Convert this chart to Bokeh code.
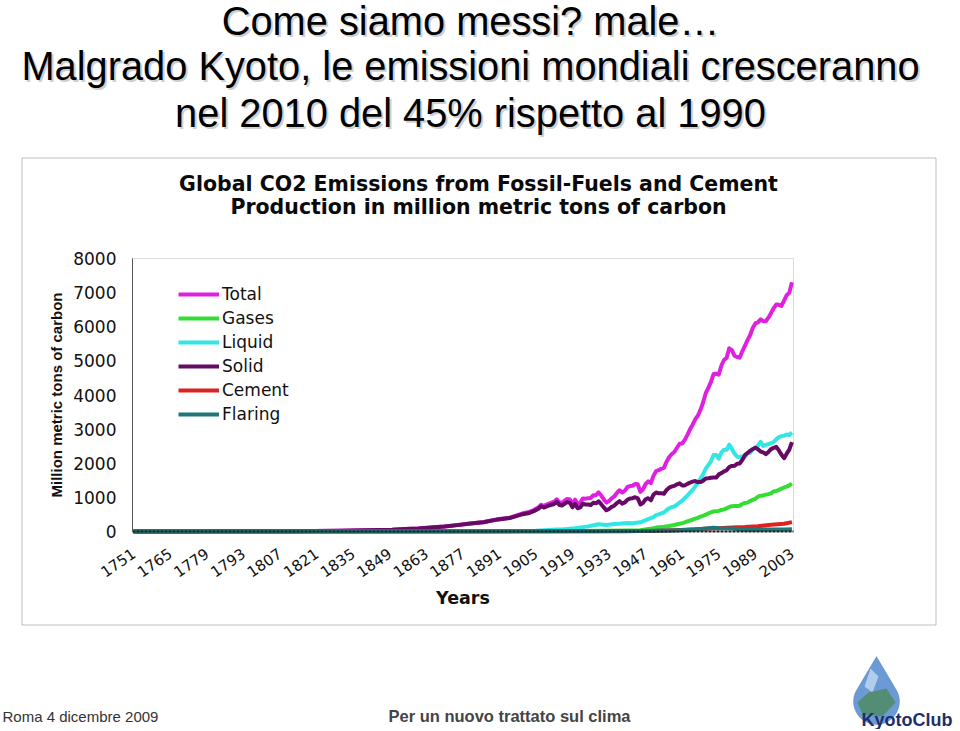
import math
from bokeh.plotting import figure
from bokeh.models import (FixedTicker, Label, BoxAnnotation, Legend, LegendItem,
                          Range1d, PolyAnnotation)
from bokeh.embed import file_html
from bokeh.resources import INLINE

# ---------------- data (million metric tons of carbon) ----------------
years = [1751, 1760, 1770, 1780, 1790, 1800, 1810, 1820, 1830, 1840,
         1850, 1855, 1860, 1865, 1870, 1875, 1880, 1885, 1890, 1895,
         1900, 1902, 1904, 1906, 1907, 1908, 1910, 1912,
         1913, 1914, 1915, 1916, 1917, 1918, 1919, 1920, 1921, 1922,
         1923, 1924, 1925, 1926, 1927, 1928, 1929, 1930, 1931, 1932,
         1933, 1934, 1935, 1936, 1937, 1938, 1939, 1940, 1941, 1942,
         1943, 1944, 1945, 1946, 1947, 1948, 1949] + list(range(1950, 2004))

total = [3, 3, 3, 4, 5, 8, 10, 14, 24, 33,
         54, 75, 91, 119, 147, 188, 236, 277, 356, 405,
         534, 563, 622, 707, 784, 750, 819, 874,
         943, 850, 838, 901, 955, 936, 806, 932, 803, 845,
         970, 963, 975, 983, 1062, 1065, 1145, 1053, 940, 847,
         893, 973, 1027, 1130, 1209, 1142, 1192, 1299, 1334, 1342,
         1391, 1383, 1160, 1238, 1392, 1469, 1419,
         1630, 1767, 1795, 1841, 1865, 2042, 2177, 2270, 2330, 2454,
         2569, 2580, 2686, 2833, 2995, 3130, 3288, 3393, 3566, 3780,
         4053, 4208, 4376, 4614, 4623, 4596, 4864, 5026, 5087, 5369,
         5315, 5152, 5113, 5094, 5280, 5439, 5607, 5752, 5965, 6097,
         6127, 6217, 6164, 6162, 6266, 6398, 6542, 6651, 6643, 6610,
         6765, 6927, 6996, 7303]

solid = [3, 3, 3, 4, 5, 8, 10, 14, 24, 33,
         54, 75, 91, 119, 147, 187, 234, 273, 347, 393,
         507, 534, 588, 668, 740, 702, 762, 807,
         868, 776, 760, 814, 860, 840, 708, 810, 682, 705,
         815, 790, 790, 775, 845, 826, 885, 800, 705, 622,
         660, 720, 755, 835, 890, 815, 850, 930, 965, 975,
         1005, 970, 790, 840, 945, 975, 915,
         1078, 1145, 1119, 1118, 1107, 1215, 1284, 1318, 1336, 1383,
         1410, 1349, 1351, 1396, 1435, 1460, 1478, 1448, 1448, 1486,
         1556, 1559, 1576, 1581, 1579, 1673, 1710, 1765, 1793, 1887,
         1921, 1926, 1983, 1995, 2094, 2237, 2300, 2364, 2414, 2457,
         2409, 2341, 2318, 2265, 2331, 2414, 2451, 2480, 2376, 2250,
         2150, 2280, 2400, 2620]

liquid_years = [1751, 1870, 1880, 1890, 1900, 1905, 1910, 1913, 1915, 1920,
                1925, 1929, 1930, 1932, 1935, 1937, 1940, 1942, 1945, 1948] + list(range(1950, 2004))
liquid = [0, 1, 3, 9, 16, 25, 43, 57, 60, 97,
          150, 213, 206, 190, 222, 230, 250, 240, 270, 360,
          423, 479, 504, 533, 557, 625, 679, 714, 731, 789,
          849, 904, 980, 1052, 1137, 1219, 1323, 1423, 1551, 1673,
          1839, 1947, 2057, 2241, 2245, 2132, 2314, 2398, 2392, 2544,
          2422, 2289, 2196, 2176, 2199, 2186, 2293, 2306, 2412, 2459,
          2517, 2627, 2506, 2537, 2562, 2586, 2624, 2701, 2766, 2795,
          2810, 2842, 2829, 2900]

gas_years = [1751, 1885, 1900, 1910, 1920, 1930, 1940, 1945] + list(range(1950, 2004))
gases = [0, 0, 4, 8, 11, 22, 32, 40,
         97, 115, 124, 131, 138, 150, 161, 178, 192, 212,
         227, 246, 268, 296, 322, 351, 375, 400, 435, 460,
         493, 530, 560, 588, 597, 604, 630, 650, 680, 721,
         739, 750, 745, 756, 805, 837, 846, 892, 926, 958,
         1019, 1050, 1057, 1081, 1094, 1120, 1176, 1186, 1219, 1256,
         1291, 1315, 1352, 1400]

cement_years = [1751, 1928, 1940, 1950, 1955, 1960, 1965, 1970, 1975, 1980,
                1985, 1990, 1995, 2000, 2003]
cement = [0, 10, 18, 18, 30, 43, 58, 78, 95, 120, 131, 157, 196, 225, 275]

flaring_years = [1751, 1940, 1950, 1955, 1960, 1965, 1970, 1973, 1975, 1980,
                 1985, 1990, 1995, 2000, 2003]
flaring = [0, 10, 23, 30, 39, 55, 87, 110, 92, 89, 52, 53, 60, 61, 67]

y_ticks = [0, 1000, 2000, 3000, 4000, 5000, 6000, 7000, 8000]
x_ticks = [1751, 1765, 1779, 1793, 1807, 1821, 1835, 1849, 1863, 1877,
           1891, 1905, 1919, 1933, 1947, 1961, 1975, 1989, 2003]

series_names = ["Total", "Gases", "Liquid", "Solid", "Cement", "Flaring"]
series_colors = ["#e020e0", "#33dd33", "#33e6e6", "#660a66", "#dd2222", "#1f7777"]

slide_title = ["Come siamo messi? male\u2026",
               "Malgrado Kyoto, le emissioni mondiali cresceranno",
               "nel 2010 del 45% rispetto al 1990"]
chart_title = ["Global CO2 Emissions from Fossil-Fuels and Cement",
               "Production in million metric tons of carbon"]
footer_left = "Roma 4 dicembre 2009"
footer_mid = "Per un nuovo trattato sul clima"
logo_text = "KyotoClub"

# ---------------- layout constants (pixels) ----------------
W, H = 958, 729
PL, PR, PT, PB = 132, 793, 258, 531        # plot area in the picture
X_LO, X_HI = 1750.6, 2003.6
Y_LO, Y_HI = 0, 8000

kx = (PR - PL) / (X_HI - X_LO)
ky = (PB - PT) / (Y_HI - Y_LO)
x_range = Range1d(X_LO - PL / kx, X_HI + (W - PR) / kx)
y_range = Range1d(Y_LO - (H - PB) / ky, Y_HI + PT / ky)

p = figure(width=W, height=H, output_backend="svg", toolbar_location=None,
           x_range=x_range, y_range=y_range,
           min_border=0, min_border_left=0, min_border_right=0,
           min_border_top=0, min_border_bottom=0)
if p.title is not None:
    p.title.visible = False
p.background_fill_color = "white"
p.border_fill_color = "white"
p.outline_line_color = None
p.xgrid.visible = False
p.ygrid.visible = False

# axes drawn at the plot-area edges
p.yaxis.fixed_location = X_LO
p.yaxis.bounds = (Y_LO, Y_HI)
p.xaxis.fixed_location = Y_LO
p.xaxis.bounds = (X_LO, X_HI)
p.yaxis.ticker = FixedTicker(ticks=y_ticks)
p.xaxis.ticker = FixedTicker(ticks=x_ticks)
for ax in (p.xaxis, p.yaxis):
    ax.major_tick_out = 0
    ax.major_tick_in = 0
    ax.minor_tick_out = 0
    ax.minor_tick_in = 0
    ax.major_label_text_font = "DejaVu Sans"
    ax.major_label_text_color = "#111111"
p.yaxis.major_label_text_font_size = "17px"
p.yaxis.major_label_standoff = 16
p.yaxis.axis_line_color = "#555555"
p.xaxis.major_label_text_font_size = "15px"
p.xaxis.major_label_orientation = 0.6
p.xaxis.major_label_standoff = 20
p.xaxis.axis_line_color = "#222222"
p.xaxis.axis_line_width = 2
p.xaxis.axis_line_dash = "3 1"

p.yaxis.axis_label = "Million metric tons of carbon"
p.yaxis.axis_label_text_font = "Liberation Sans"
p.yaxis.axis_label_text_font_style = "bold"
p.yaxis.axis_label_text_font_size = "15px"
p.yaxis.axis_label_text_color = "#111111"
p.yaxis.axis_label_standoff = 5

p.xaxis.axis_label = "Years"
p.xaxis.axis_label_text_font = "DejaVu Sans"
p.xaxis.axis_label_text_font_style = "bold"
p.xaxis.axis_label_text_font_size = "17.5px"
p.xaxis.axis_label_text_color = "#111111"
p.xaxis.axis_label_standoff = 2

# plot-area border (grey top / right edges)
p.add_layout(BoxAnnotation(left=X_LO, right=X_HI, bottom=Y_LO, top=Y_HI,
                           fill_alpha=0, line_color="#8c8c8c", line_width=1,
                           level="underlay"))

# ---------------- lines ----------------
data_x = [years, gas_years, liquid_years, years, cement_years, flaring_years]
data_y = [total, gases, liquid, solid, cement, flaring]
renderers = []
for xs, ys, c in zip(data_x, data_y, series_colors):
    renderers.append(p.line(xs, ys, line_color=c, line_width=4, line_join="round"))

legend = Legend(items=[LegendItem(label=n, renderers=[r]) for n, r in zip(series_names, renderers)],
                location=(178, H - 424), orientation="vertical",
                border_line_color=None, background_fill_alpha=0,
                padding=0, margin=0, spacing=4,
                glyph_width=41, glyph_height=20, label_height=20, label_standoff=3,
                label_text_font="DejaVu Sans", label_text_font_size="17px",
                label_text_color="#111111")
p.add_layout(legend)


# ---------------- slide decorations (canvas pixels, y measured from top) ----------------
def sy(py):
    return H - py


def mid_of(baseline, size):
    # vertical middle of a text line whose baseline lies at `baseline`
    return baseline - 0.32 * size


p.add_layout(BoxAnnotation(left=21.5, right=935.5, top=sy(157.5), bottom=sy(624.5),
                           left_units="screen", right_units="screen",
                           top_units="screen", bottom_units="screen",
                           fill_alpha=0, line_color="#2a2a2a", line_width=1))

TS = 39.8
for txt, base in zip(slide_title, [33, 78, 125.5]):
    p.add_layout(Label(x=472, y=sy(mid_of(base, TS) + 2), x_units="screen", y_units="screen",
                       text=txt, text_align="center", text_baseline="middle",
                       text_font="Liberation Sans", text_font_size=f"{TS}px",
                       text_color="#cfcfcf"))
    p.add_layout(Label(x=470, y=sy(mid_of(base, TS)), x_units="screen", y_units="screen",
                       text=txt, text_align="center", text_baseline="middle",
                       text_font="Liberation Sans", text_font_size=f"{TS}px",
                       text_color="#000000"))

for txt, mid in zip(chart_title, [183, 206]):
    p.add_layout(Label(x=478, y=sy(mid), x_units="screen", y_units="screen",
                       text=txt, text_align="center", text_baseline="middle",
                       text_font="DejaVu Sans", text_font_style="bold",
                       text_font_size="20.5px", text_color="#0a0a0a"))

p.add_layout(Label(x=2, y=sy(mid_of(721, 15)), x_units="screen", y_units="screen",
                   text=footer_left, text_align="left", text_baseline="middle",
                   text_font="Liberation Sans", text_font_size="15px", text_color="#333333"))
p.add_layout(Label(x=388, y=sy(mid_of(721, 16.5)), x_units="screen", y_units="screen",
                   text=footer_mid, text_align="left", text_baseline="middle",
                   text_font="Liberation Sans", text_font_style="bold",
                   text_font_size="16.5px", text_color="#444444"))

# logo: water drop + name
cx, cy, r = 876, 701, 23
drop_x, drop_y = [cx], [sy(656)]
for k in range(0, 31):
    a = math.radians(-35 + k * (250 / 30))
    drop_x.append(cx + r * math.cos(a))
    drop_y.append(sy(cy + r * math.sin(a)))
p.add_layout(PolyAnnotation(xs=drop_x, ys=drop_y, xs_units="screen", ys_units="screen",
                            fill_color="#5b8fd0", fill_alpha=0.9, line_color="#3a6fae",
                            line_width=1))
p.add_layout(PolyAnnotation(xs=[870, 878, 872, 864],
                            ys=[sy(v) for v in (668, 676, 692, 686)],
                            xs_units="screen", ys_units="screen",
                            fill_color="#cfe3f7", fill_alpha=0.7, line_alpha=0))
p.add_layout(PolyAnnotation(xs=[868, 886, 895, 882, 862, 857],
                            ys=[sy(v) for v in (692, 688, 702, 716, 714, 702)],
                            xs_units="screen", ys_units="screen",
                            fill_color="#4f8a5e", fill_alpha=0.8, line_alpha=0))
p.add_layout(Label(x=861, y=sy(mid_of(725, 18)), x_units="screen", y_units="screen",
                   text=logo_text, text_align="left", text_baseline="middle",
                   text_font="Liberation Sans", text_font_style="bold",
                   text_font_size="18px", text_color="#1d2f6b"))

open("out.html", "w").write(file_html(p, INLINE))
